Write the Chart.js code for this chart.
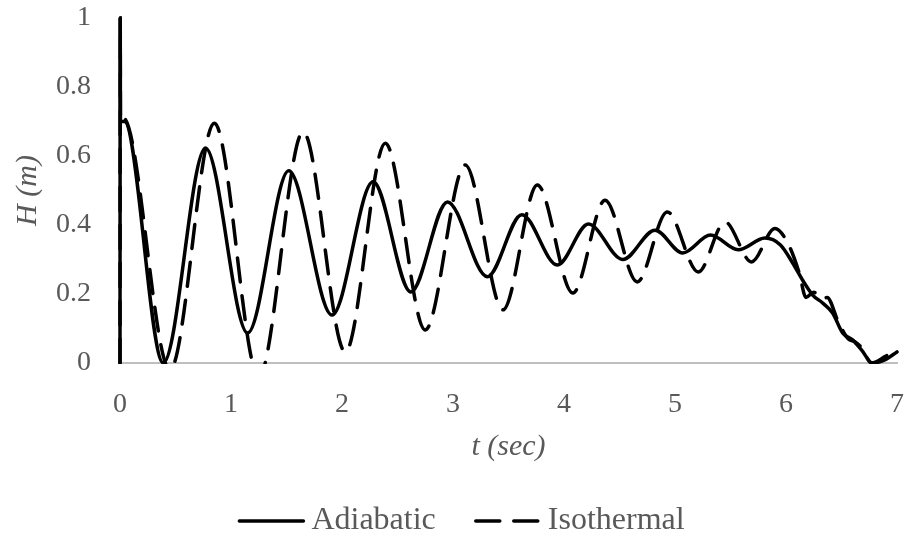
<!DOCTYPE html>
<html>
<head>
<meta charset="utf-8">
<title>H vs t</title>
<script src="https://cdn.jsdelivr.net/npm/chart.js@4"></script>
<style>
    html, body { margin: 0; padding: 0; background: #ffffff; }
    #chart-wrap { width: 908px; height: 541px; position: relative; }
</style>
</head>
<body>
<div id="chart-wrap"><canvas id="headChart"></canvas></div>
<script>
    // Water level H (m) against time t (sec)
    const tAdiabatic = [0, 0.002, 0.004, 0.04, 0.39, 0.77, 1.15, 1.52, 1.91, 2.28, 2.62, 2.95, 3.31, 3.62, 3.94, 4.22, 4.53, 4.82,
        5.07, 5.32, 5.57, 5.81, 5.95, 6.06, 6.15, 6.24, 6.33, 6.42, 6.51, 6.60, 6.68, 6.78, 6.89, 7.0];
    const hAdiabatic = [0, 1, 0.70, 0.70, 0, 0.623, 0.087, 0.557, 0.139, 0.525, 0.206, 0.467, 0.25, 0.43, 0.284, 0.403, 0.30, 0.385,
        0.319, 0.371, 0.328, 0.362, 0.342, 0.29, 0.24, 0.197, 0.174, 0.145, 0.087, 0.067, 0.038, 0, 0.009, 0.032];

    const tIsothermal = [0, 0.002, 0.004, 0.03, 0.45, 0.85, 1.25, 1.65, 2.03, 2.39, 2.75, 3.11, 3.45, 3.76, 4.08, 4.37, 4.66, 4.93,
        5.21, 5.45, 5.69, 5.90, 6.02, 6.12, 6.18, 6.25, 6.33, 6.37, 6.47, 6.56, 6.62, 6.68, 6.77, 6.90, 7.0];
    const hIsothermal = [0, 1, 0.70, 0.71, -0.02, 0.695, -0.04, 0.67, 0.032, 0.637, 0.096, 0.574, 0.154, 0.516, 0.203, 0.472, 0.235, 0.438,
        0.264, 0.409, 0.293, 0.39, 0.345, 0.26, 0.19, 0.205, 0.185, 0.19, 0.12, 0.07, 0.062, 0.045, 0, 0.02, 0.036];

    const xTicks = [0, 1, 2, 3, 4, 5, 6, 7];
    const yTicks = [0, 0.2, 0.4, 0.6, 0.8, 1];

    function toPoints(xs, ys) {
        return xs.map((x, i) => ({ x: x, y: ys[i] }));
    }

    const textGray = '#595959';
    const serif = "'Liberation Serif', 'Times New Roman', serif";

    // Legend under the axis title: line sample, then label, drawn from each dataset's own style
    const legendStyle = { y: 521, centerX: 461, lineLength: 68, textGap: 6, itemGap: 38, fontSize: 32 };
    const lineLegend = {
        id: 'lineLegend',
        afterDraw(chart) {
            const c = chart.ctx;
            const s = legendStyle;
            c.save();
            c.font = s.fontSize + 'px ' + serif;
            const items = chart.data.datasets.map(ds => ({ ds: ds, w: c.measureText(ds.label).width }));
            const total = items.reduce((sum, it) => sum + s.lineLength + s.textGap + it.w, 0) + s.itemGap * (items.length - 1);
            let x = s.centerX - total / 2;
            items.forEach(({ ds, w }) => {
                c.beginPath();
                c.strokeStyle = ds.borderColor;
                c.lineWidth = ds.borderWidth;
                c.lineCap = 'round';
                c.setLineDash(ds.borderDash || []);
                c.moveTo(x + 2, s.y);
                c.lineTo(x + s.lineLength - 2, s.y);
                c.stroke();
                c.setLineDash([]);
                c.fillStyle = textGray;
                c.textBaseline = 'middle';
                c.textAlign = 'left';
                c.fillText(ds.label, x + s.lineLength + s.textGap, s.y);
                x += s.lineLength + s.textGap + w + s.itemGap;
            });
            c.restore();
        }
    };

    // let the t = 0 jump show at full width; cut below H = 0
    const seriesClip = { left: 5, top: 5, right: 5, bottom: 1 };

    document.addEventListener('DOMContentLoaded', function () {
        const ctx = document.getElementById('headChart');

        new Chart(ctx, {
            type: 'line',
            data: {
                datasets: [{
                    label: 'Adiabatic',
                    data: toPoints(tAdiabatic, hAdiabatic),
                    borderColor: '#000000',
                    borderWidth: 3.5,
                    borderCapStyle: 'round',
                    cubicInterpolationMode: 'monotone',
                    pointRadius: 0,
                    clip: seriesClip
                }, {
                    label: 'Isothermal',
                    data: toPoints(tIsothermal, hIsothermal),
                    borderColor: '#000000',
                    borderWidth: 3.5,
                    borderDash: [24, 14],
                    borderCapStyle: 'round',
                    cubicInterpolationMode: 'monotone',
                    pointRadius: 0,
                    clip: seriesClip
                }]
            },
            options: {
                responsive: true,
                maintainAspectRatio: false,
                animation: false,
                layout: { padding: { left: 0, right: 11, top: 18, bottom: 73 } },
                plugins: {
                    tooltip: { enabled: false },
                    legend: { display: false }
                },
                scales: {
                    x: {
                        type: 'linear',
                        min: 0,
                        max: 7,
                        afterBuildTicks: (scale) => { scale.ticks = xTicks.map(v => ({ value: v })); },
                        afterFit: (scale) => {
                            scale.height = 105;
                            scale.paddingLeft = 7;
                            scale.paddingRight = 7;
                        },
                        grid: { display: false },
                        border: { display: true, color: '#bfbfbf', width: 2 },
                        ticks: {
                            padding: 17,
                            color: textGray,
                            font: { family: serif, size: 28 },
                            callback: (value) => String(value)
                        },
                        title: {
                            display: true,
                            text: 't (sec)',
                            color: textGray,
                            padding: { top: 0, bottom: 3 },
                            font: { family: serif, size: 30, style: 'italic' }
                        }
                    },
                    y: {
                        min: 0,
                        max: 1,
                        afterBuildTicks: (scale) => { scale.ticks = yTicks.map(v => ({ value: v })); },
                        afterFit: (scale) => {
                            scale.width = 120;
                            scale.paddingTop = 17;
                            scale.paddingBottom = 17;
                        },
                        grid: { display: false },
                        border: { display: false },
                        ticks: {
                            padding: 21,
                            color: textGray,
                            font: { family: serif, size: 28 },
                            callback: (value) => String(value)
                        },
                        title: {
                            display: true,
                            text: 'H (m)',
                            color: textGray,
                            padding: { top: 10, bottom: 0 },
                            font: { family: serif, size: 30, style: 'italic' }
                        }
                    }
                }
            },
            plugins: [lineLegend]
        });
    });
</script>
</body>
</html>
